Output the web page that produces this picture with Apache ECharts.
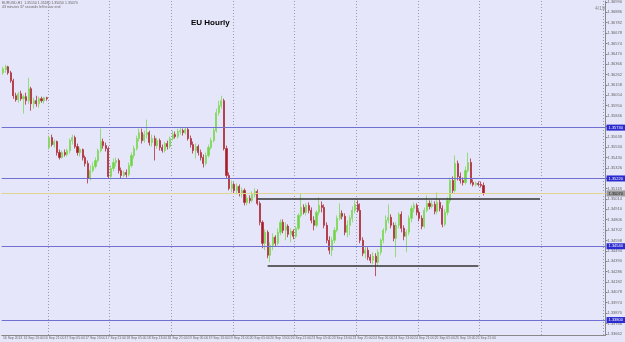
<!DOCTYPE html>
<html>
<head>
<meta charset="utf-8">
<style>
html, body { margin: 0; padding: 0; background: #e6e6fa; }
#chart { width: 625px; height: 342px; }
</style>
<script src="https://cdn.jsdelivr.net/npm/echarts@6/dist/echarts.min.js"></script>
</head>
<body>
<div id="chart"></div>
<script>
// EURUSD H1 bars, [open, close, low, high]
let candles = [
  [1.3628,1.3632,1.3626,1.3634],[1.3631,1.3634,1.3628,1.3636],[1.3634,1.3628,1.3626,1.3635],[1.3628,1.3620,1.3618,1.3630],
  [1.3620,1.3605,1.3602,1.3622],[1.3605,1.3601,1.3599,1.3608],[1.3601,1.3607,1.3598,1.3609],[1.3607,1.3602,1.3600,1.3610],
  [1.3602,1.3604,1.3587,1.3606],[1.3604,1.3600,1.3596,1.3608],[1.3600,1.3612,1.3597,1.3623],[1.3612,1.3597,1.3590,1.3614],
  [1.3597,1.3600,1.3592,1.3603],[1.3600,1.3597,1.3594,1.3605],[1.3597,1.3602,1.3593,1.3604],[1.3602,1.3600,1.3598,1.3604],
  [1.3600,1.3603,1.3597,1.3604],[1.3603,1.3602,1.3600,1.3604],
  [1.3553,1.3563,1.3551,1.3565],[1.3563,1.3556,1.3554,1.3566],[1.3556,1.3559,1.3553,1.3561],[1.3559,1.3548,1.3545,1.3560],
  [1.3548,1.3543,1.3541,1.3551],[1.3543,1.3548,1.3542,1.3550],[1.3548,1.3546,1.3544,1.3551],[1.3546,1.3550,1.3544,1.3552],
  [1.3550,1.3560,1.3547,1.3562],[1.3560,1.3563,1.3556,1.3566],[1.3563,1.3554,1.3552,1.3565],[1.3554,1.3548,1.3545,1.3557],
  [1.3548,1.3551,1.3544,1.3553],[1.3551,1.3543,1.3540,1.3552],[1.3543,1.3537,1.3534,1.3545],[1.3537,1.3522,1.3517,1.3540],
  [1.3522,1.3530,1.3520,1.3535],[1.3530,1.3534,1.3528,1.3538],[1.3534,1.3540,1.3532,1.3543],[1.3540,1.3550,1.3538,1.3552],
  [1.3550,1.3559,1.3548,1.3572],[1.3559,1.3555,1.3552,1.3562],[1.3555,1.3552,1.3549,1.3558],[1.3552,1.3524,1.3522,1.3554],
  [1.3524,1.3532,1.3521,1.3535],[1.3532,1.3538,1.3529,1.3542],[1.3538,1.3540,1.3534,1.3543],[1.3540,1.3530,1.3527,1.3542],
  [1.3530,1.3525,1.3522,1.3533],[1.3525,1.3528,1.3523,1.3530],[1.3528,1.3526,1.3523,1.3531],[1.3526,1.3535,1.3524,1.3538],
  [1.3535,1.3545,1.3533,1.3548],[1.3545,1.3552,1.3542,1.3555],[1.3552,1.3562,1.3550,1.3565],[1.3562,1.3568,1.3559,1.3572],
  [1.3568,1.3560,1.3557,1.3572],[1.3560,1.3566,1.3558,1.3570],[1.3566,1.3568,1.3562,1.3581],[1.3568,1.3558,1.3555,1.3570],
  [1.3558,1.3562,1.3554,1.3566],[1.3562,1.3555,1.3540,1.3565],[1.3555,1.3560,1.3552,1.3563],[1.3560,1.3553,1.3550,1.3562],
  [1.3553,1.3550,1.3548,1.3556],[1.3550,1.3557,1.3548,1.3559],[1.3557,1.3554,1.3551,1.3560],[1.3554,1.3562,1.3552,1.3564],
  [1.3562,1.3566,1.3560,1.3570],[1.3566,1.3564,1.3562,1.3569],[1.3564,1.3569,1.3562,1.3572],[1.3569,1.3570,1.3566,1.3573],
  [1.3570,1.3568,1.3565,1.3572],[1.3568,1.3571,1.3566,1.3573],[1.3571,1.3562,1.3560,1.3573],[1.3562,1.3556,1.3553,1.3565],
  [1.3556,1.3550,1.3547,1.3559],[1.3550,1.3554,1.3542,1.3557],[1.3554,1.3548,1.3545,1.3556],[1.3548,1.3543,1.3540,1.3551],
  [1.3543,1.3537,1.3533,1.3546],[1.3537,1.3545,1.3535,1.3548],[1.3545,1.3553,1.3543,1.3556],[1.3553,1.3560,1.3551,1.3563],
  [1.3560,1.3570,1.3558,1.3573],[1.3570,1.3588,1.3568,1.3592],[1.3588,1.3595,1.3585,1.3600],[1.3595,1.3600,1.3592,1.3605],
  [1.3600,1.3552,1.3550,1.3602],[1.3552,1.3525,1.3522,1.3555],[1.3525,1.3512,1.3510,1.3528],[1.3512,1.3516,1.3508,1.3520],
  [1.3516,1.3510,1.3507,1.3518],[1.3510,1.3514,1.3506,1.3517],[1.3514,1.3507,1.3504,1.3516],[1.3507,1.3510,1.3503,1.3513],
  [1.3510,1.3498,1.3495,1.3512],[1.3498,1.3502,1.3495,1.3505],[1.3502,1.3500,1.3497,1.3505],[1.3500,1.3506,1.3498,1.3509],
  [1.3506,1.3509,1.3503,1.3512],[1.3509,1.3497,1.3495,1.3511],[1.3497,1.3478,1.3475,1.3499],[1.3478,1.3457,1.3452,1.3480],
  [1.3457,1.3468,1.3450,1.3471],[1.3468,1.3445,1.3442,1.3470],[1.3445,1.3455,1.3438,1.3458],[1.3455,1.3463,1.3450,1.3467],
  [1.3463,1.3457,1.3454,1.3465],[1.3457,1.3468,1.3455,1.3472],[1.3468,1.3478,1.3465,1.3481],[1.3478,1.3470,1.3467,1.3481],
  [1.3470,1.3474,1.3460,1.3478],[1.3474,1.3466,1.3463,1.3476],[1.3466,1.3469,1.3458,1.3472],[1.3469,1.3464,1.3461,1.3471],
  [1.3464,1.3472,1.3462,1.3474],[1.3472,1.3485,1.3470,1.3487],[1.3485,1.3493,1.3483,1.3507],[1.3493,1.3488,1.3486,1.3496],
  [1.3488,1.3495,1.3485,1.3497],[1.3495,1.3490,1.3487,1.3498],[1.3490,1.3480,1.3477,1.3493],[1.3480,1.3475,1.3470,1.3484],
  [1.3475,1.3488,1.3473,1.3490],[1.3488,1.3495,1.3485,1.3503],[1.3495,1.3493,1.3488,1.3499],[1.3493,1.3475,1.3472,1.3496],
  [1.3475,1.3460,1.3457,1.3478],[1.3460,1.3450,1.3446,1.3464],[1.3450,1.3460,1.3444,1.3463],[1.3460,1.3470,1.3457,1.3473],
  [1.3470,1.3482,1.3468,1.3485],[1.3482,1.3487,1.3480,1.3497],[1.3487,1.3484,1.3481,1.3490],[1.3484,1.3468,1.3465,1.3487],
  [1.3468,1.3475,1.3463,1.3480],[1.3475,1.3482,1.3465,1.3485],[1.3482,1.3490,1.3478,1.3494],[1.3490,1.3496,1.3487,1.3500],
  [1.3496,1.3490,1.3488,1.3500],[1.3490,1.3460,1.3457,1.3497],[1.3460,1.3447,1.3444,1.3463],[1.3447,1.3450,1.3442,1.3454],
  [1.3450,1.3443,1.3440,1.3453],[1.3443,1.3440,1.3437,1.3446],[1.3440,1.3444,1.3436,1.3448],[1.3444,1.3438,1.3424,1.3447],
  [1.3438,1.3448,1.3435,1.3451],[1.3448,1.3460,1.3445,1.3462],[1.3460,1.3470,1.3457,1.3472],[1.3470,1.3480,1.3467,1.3485],
  [1.3480,1.3483,1.3477,1.3496],[1.3483,1.3475,1.3472,1.3486],[1.3475,1.3462,1.3459,1.3478],[1.3462,1.3475,1.3443,1.3478],
  [1.3475,1.3486,1.3472,1.3488],[1.3486,1.3472,1.3468,1.3489],[1.3472,1.3464,1.3460,1.3475],[1.3464,1.3468,1.3448,1.3471],
  [1.3468,1.3482,1.3465,1.3485],[1.3482,1.3492,1.3478,1.3495],[1.3492,1.3495,1.3488,1.3498],[1.3495,1.3488,1.3485,1.3497],
  [1.3488,1.3482,1.3479,1.3491],[1.3482,1.3474,1.3471,1.3485],[1.3474,1.3490,1.3472,1.3493],[1.3490,1.3497,1.3488,1.3505],
  [1.3497,1.3494,1.3491,1.3500],[1.3494,1.3496,1.3492,1.3500],[1.3496,1.3489,1.3486,1.3499],[1.3489,1.3498,1.3486,1.3508],
  [1.3498,1.3492,1.3489,1.3501],[1.3492,1.3476,1.3473,1.3495],[1.3476,1.3488,1.3474,1.3491],[1.3488,1.3500,1.3485,1.3503],
  [1.3500,1.3520,1.3497,1.3523],[1.3520,1.3510,1.3507,1.3524],[1.3510,1.3537,1.3508,1.3545],[1.3537,1.3524,1.3520,1.3540],
  [1.3524,1.3520,1.3517,1.3528],[1.3520,1.3518,1.3515,1.3523],[1.3518,1.3530,1.3516,1.3534],[1.3530,1.3538,1.3528,1.3548],
  [1.3538,1.3518,1.3516,1.3542],[1.3518,1.3516,1.3514,1.3521],[1.3516,1.3517,1.3514,1.3519],[1.3517,1.3516,1.3514,1.3519],
  [1.3516,1.3515,1.3513,1.3519],[1.3515,1.3507,1.3505,1.3518]
];

// time labels, one every 8 bars
let timeLabels = ['16 Sep 2013','16 Sep 13:00','16 Sep 21:00','17 Sep 05:00','17 Sep 13:00','17 Sep 21:00',
  '18 Sep 05:00','18 Sep 13:00','18 Sep 21:00','19 Sep 05:00','19 Sep 13:00','19 Sep 21:00',
  '20 Sep 05:00','20 Sep 13:00','20 Sep 21:00','23 Sep 05:00','23 Sep 13:00','23 Sep 21:00',
  '24 Sep 05:00','24 Sep 13:00','24 Sep 21:00','25 Sep 05:00','25 Sep 13:00','25 Sep 21:00'];

// price scale labels on the right
let priceTicks = [1.36990,1.36886,1.36782,1.36678,1.36574,1.36470,1.36366,1.36262,1.36158,1.36054,
  1.35950,1.35846,1.35742,1.35638,1.35534,1.35430,1.35326,1.35222,1.35118,1.35014,
  1.34910,1.34806,1.34702,1.34598,1.34494,1.34390,1.34286,1.34182,1.34078,1.33974,
  1.33870,1.33766,1.33662];

let blueLevels = [1.3573, 1.3522, 1.3454, 1.3380];
let bidPrice = 1.3507;
// [from bar, to bar, price]
let trendLines = [[99, 209, 1.3502], [103, 185, 1.3434]];

let slots = 235;
let cats = [];
for (let i = 0; i < slots; i++) cats.push(i);

let chart = echarts.init(document.getElementById('chart'));

let marks = [];
blueLevels.forEach(function (p) {
    marks.push({
        yAxis: p,
        lineStyle: { color: '#7070d2', width: 1.2, type: 'solid' },
        label: {
            show: true, position: 'end', distance: 1,
            formatter: p.toFixed(5), fontSize: 4, color: '#fff',
            backgroundColor: '#2a2ad0', padding: [1, 2]
        }
    });
});
marks.push({
    yAxis: bidPrice,
    lineStyle: { color: '#e0d48e', width: 1, type: 'solid' },
    label: {
        show: true, position: 'end', distance: 1,
        formatter: bidPrice.toFixed(5), fontSize: 4, color: '#222',
        backgroundColor: '#9a9a9a', padding: [1, 2]
    }
});
trendLines.forEach(function (t) {
    marks.push([
        { coord: [t[0], t[2]], lineStyle: { color: '#333', width: 1.6, type: 'solid' }, label: { show: false } },
        { coord: [t[1], t[2]] }
    ]);
});

let option = {
    backgroundColor: '#e6e6fa',
    animation: false,
    title: {
        text: 'EU Hourly',
        left: 186, top: 14,
        textStyle: { fontSize: 8, fontWeight: 'bold', color: '#000', fontFamily: 'Liberation Sans' }
    },
    graphic: [
        { type: 'text', left: 2, top: 1, style: { text: 'EURUSD,H1  1.35150 1.35180 1.35050 1.35070', fontSize: 3.5, fill: '#666' } },
        { type: 'text', left: 2, top: 5, style: { text: '43 minutes 37 seconds left to bar end', fontSize: 3.5, fill: '#666' } },
        { type: 'text', left: 595, top: 6, style: { text: '4/19', fontSize: 5, fill: '#888' } }
    ],
    grid: { left: 0, right: 14, top: 0, bottom: 7 },
    xAxis: {
        type: 'category',
        data: cats,
        boundaryGap: true,
        axisLine: { lineStyle: { color: '#888', width: 1 } },
        axisTick: { show: false },
        axisLabel: {
            interval: function (i) { return i % 8 === 0 && i < candles.length; },
            formatter: function (v, i) { return timeLabels[Math.floor(i / 8)] || ''; },
            hideOverlap: false,
            showMinLabel: true,
            fontSize: 3.4, color: '#666', margin: 1.5, align: 'left',
            fontFamily: 'Liberation Sans'
        },
        splitLine: {
            show: true,
            interval: function (i) { return i >= 18 && (i - 18) % 24 === 0; },
            lineStyle: { color: '#9a9aae', width: 1, type: [1, 2] }
        }
    },
    yAxis: {
        type: 'value',
        position: 'right',
        min: 1.3365,
        max: 1.3700,
        axisLine: { show: true, lineStyle: { color: '#888', width: 1 } },
        axisTick: { show: true, customValues: priceTicks, length: 2, lineStyle: { color: '#888' } },
        axisLabel: {
            customValues: priceTicks,
            formatter: function (v) { return v.toFixed(5); },
            fontSize: 4, color: '#666', margin: 2,
            fontFamily: 'Liberation Sans'
        },
        splitLine: { show: false }
    },
    series: [{
        type: 'candlestick',
        data: candles,
        barWidth: 1.6,
        itemStyle: {
            color: '#6fd443',
            color0: '#a81c28',
            borderColor: '#7fd85a',
            borderColor0: '#b0303c',
            borderWidth: 0.8
        },
        markLine: {
            symbol: ['none', 'none'],
            precision: 5,
            silent: true,
            animation: false,
            data: marks
        }
    }]
};

chart.setOption(option);
</script>
</body>
</html>
